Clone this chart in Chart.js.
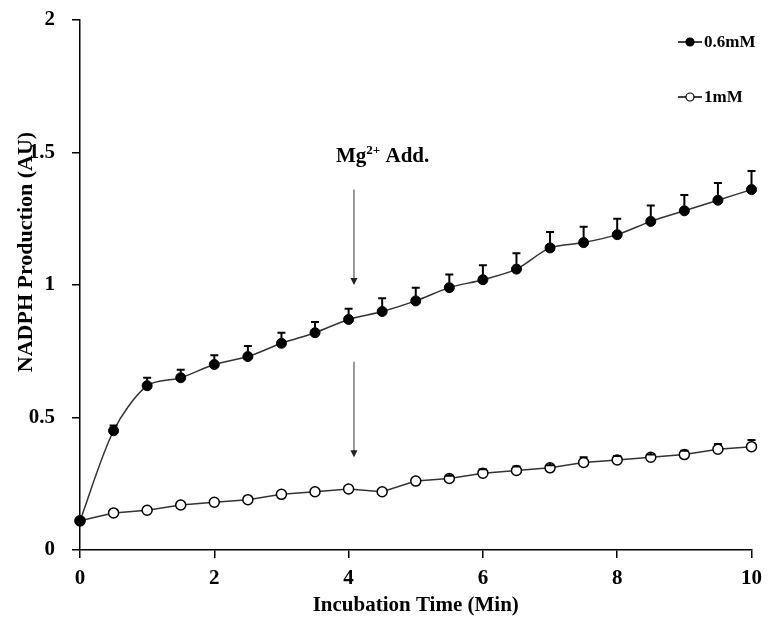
<!DOCTYPE html>
<html>
<head>
<meta charset="utf-8">
<script src="https://cdn.jsdelivr.net/npm/chart.js@4.4.0/dist/chart.umd.min.js"></script>
<style>
    html, body { margin: 0; padding: 0; background: #fff; }
    #wrap { width: 770px; height: 630px; }
</style>
</head>
<body>
<div id="wrap"><canvas id="nadphChart" width="770" height="630"></canvas></div>
<script>
// time points (min)
const times = [0, 0.5, 1, 1.5, 2, 2.5, 3, 3.5, 4, 4.5, 5, 5.5, 6, 6.5, 7, 7.5, 8, 8.5, 9, 9.5, 10]

// 0.6mM Mg2+
const mg06 = [0.11, 0.45, 0.62, 0.65, 0.70, 0.73, 0.78, 0.82, 0.87, 0.90, 0.94, 0.99, 1.02, 1.06, 1.14, 1.16, 1.19, 1.24, 1.28, 1.32, 1.36]
const mg06Err = [0, 0.02, 0.03, 0.03, 0.035, 0.04, 0.04, 0.04, 0.04, 0.05, 0.05, 0.05, 0.055, 0.06, 0.06, 0.06, 0.06, 0.06, 0.06, 0.065, 0.07]

// 1mM Mg2+
const mg1 = [0.11, 0.14, 0.15, 0.17, 0.18, 0.19, 0.21, 0.22, 0.23, 0.22, 0.26, 0.27, 0.29, 0.30, 0.31, 0.33, 0.34, 0.35, 0.36, 0.38, 0.39]
const mg1Err = [0, 0, 0, 0, 0, 0, 0, 0, 0, 0, 0, 0.01, 0.015, 0.015, 0.01, 0.02, 0.015, 0.01, 0.015, 0.02, 0.025]

const xTickValues = [0, 2, 4, 6, 8, 10]
const yTickValues = [0, 0.5, 1, 1.5, 2]
const yTickLabels = ['0', '0.5', '1', '1.5', '2']

// where Mg2+ was added (x) and the two arrows (y from -> to)
const addTime = 4.08
const arrowUpper = [1.36, 1.0]
const arrowLower = [0.71, 0.35]

const serif = "'Liberation Serif', 'Times New Roman', serif"

const errorBars = {
    id: 'errorBars',
    afterDatasetsDraw(chart) {
        const ctx = chart.ctx
        const yScale = chart.scales.y
        chart.data.datasets.forEach((ds, i) => {
            if (!ds.errors) return
            const meta = chart.getDatasetMeta(i)
            ctx.save()
            ctx.strokeStyle = '#000'
            ctx.lineWidth = 2
            meta.data.forEach((pt, j) => {
                const err = ds.errors[j]
                if (!err) return
                const top = yScale.getPixelForValue(ds.data[j].y + err)
                ctx.beginPath()
                ctx.moveTo(pt.x, pt.y - ds.pointRadius)
                ctx.lineTo(pt.x, top)
                ctx.moveTo(pt.x - 4, top)
                ctx.lineTo(pt.x + 4, top)
                ctx.stroke()
            })
            ctx.restore()
        })
    }
}

function drawArrow(ctx, x, y1, y2) {
    ctx.save()
    ctx.strokeStyle = '#777'
    ctx.lineWidth = 1.5
    ctx.beginPath()
    ctx.moveTo(x, y1)
    ctx.lineTo(x, y2 - 4)
    ctx.stroke()
    ctx.fillStyle = '#222'
    ctx.beginPath()
    ctx.moveTo(x - 3.5, y2 - 7)
    ctx.lineTo(x + 3.5, y2 - 7)
    ctx.lineTo(x, y2)
    ctx.closePath()
    ctx.fill()
    ctx.restore()
}

const extras = {
    id: 'extras',
    afterDraw(chart) {
        const ctx = chart.ctx
        const xs = chart.scales.x
        const ys = chart.scales.y
        const ax = xs.getPixelForValue(addTime)

        drawArrow(ctx, ax, ys.getPixelForValue(arrowUpper[0]), ys.getPixelForValue(arrowUpper[1]))
        drawArrow(ctx, ax, ys.getPixelForValue(arrowLower[0]), ys.getPixelForValue(arrowLower[1]))

        // Mg2+ Add. label
        ctx.save()
        ctx.fillStyle = '#000'
        ctx.textBaseline = 'alphabetic'
        ctx.textAlign = 'left'
        let tx = 336
        const ty = 162
        ctx.font = 'bold 21px ' + serif
        ctx.fillText('Mg', tx, ty)
        tx += ctx.measureText('Mg').width
        ctx.font = 'bold 13px ' + serif
        ctx.fillText('2+', tx, ty - 8)
        tx += ctx.measureText('2+').width
        ctx.font = 'bold 21px ' + serif
        ctx.fillText(' Add.', tx, ty)

        // y axis title
        ctx.translate(26, 252)
        ctx.rotate(-Math.PI / 2)
        ctx.textAlign = 'center'
        ctx.textBaseline = 'middle'
        ctx.font = 'bold 22px ' + serif
        ctx.fillText('NADPH Production (AU)', 0, 0)
        ctx.restore()

        // legend
        const items = [
            { label: '0.6mM', fill: '#000', y: 42 },
            { label: '1mM', fill: '#fff', y: 97 }
        ]
        ctx.save()
        items.forEach(it => {
            ctx.strokeStyle = '#000'
            ctx.lineWidth = 1.5
            ctx.beginPath()
            ctx.moveTo(678, it.y)
            ctx.lineTo(702, it.y)
            ctx.stroke()
            ctx.beginPath()
            ctx.arc(690, it.y, 4, 0, Math.PI * 2)
            ctx.fillStyle = it.fill
            ctx.fill()
            ctx.lineWidth = 1.2
            ctx.stroke()
            ctx.fillStyle = '#000'
            ctx.font = 'bold 17px ' + serif
            ctx.textAlign = 'left'
            ctx.textBaseline = 'middle'
            ctx.fillText(it.label, 704, it.y + 1)
        })
        ctx.restore()
    }
}

document.addEventListener("DOMContentLoaded", function () {
    const ctx = document.getElementById('nadphChart').getContext('2d')

    new Chart(ctx, {
        type: 'line',
        data: {
            datasets: [{
                label: '0.6mM',
                data: times.map((t, i) => ({ x: t, y: mg06[i] })),
                errors: mg06Err,
                borderColor: '#333',
                borderWidth: 1.5,
                tension: 0.3,
                clip: false,
                pointRadius: 5,
                pointBackgroundColor: '#000',
                pointBorderColor: '#000',
                pointBorderWidth: 1
            }, {
                label: '1mM',
                data: times.map((t, i) => ({ x: t, y: mg1[i] })),
                errors: mg1Err,
                borderColor: '#333',
                borderWidth: 1.5,
                tension: 0,
                clip: false,
                pointRadius: 5,
                pointBackgroundColor: '#fff',
                pointBorderColor: '#000',
                pointBorderWidth: 1.5
            }]
        },
        options: {
            responsive: false,
            animation: false,
            events: [],
            layout: {
                padding: { left: 0, right: 18, top: 20, bottom: 0 }
            },
            plugins: {
                legend: { display: false },
                tooltip: { enabled: false }
            },
            scales: {
                x: {
                    type: 'linear',
                    min: 0,
                    max: 10,
                    afterBuildTicks: (scale) => {
                        scale.ticks = xTickValues.map(v => ({ value: v }))
                    },
                    afterFit: (scale) => { scale.height = 80 },
                    grid: { drawOnChartArea: false, drawTicks: true, tickLength: 8, color: '#000', lineWidth: 1.5 },
                    border: { color: '#000', width: 1.5 },
                    ticks: {
                        color: '#000',
                        padding: 8,
                        maxRotation: 0,
                        font: { family: serif, size: 21, weight: 'bold' }
                    },
                    title: {
                        display: true,
                        text: 'Incubation Time (Min)',
                        color: '#000',
                        padding: { top: 0, bottom: 12 },
                        font: { family: serif, size: 21, weight: 'bold' }
                    }
                },
                y: {
                    min: 0,
                    max: 2,
                    afterBuildTicks: (scale) => {
                        scale.ticks = yTickValues.map(v => ({ value: v }))
                    },
                    afterFit: (scale) => {
                        scale.width = 80
                        scale.paddingTop = 0
                        scale.paddingBottom = 0
                    },
                    grid: { drawOnChartArea: false, drawTicks: true, tickLength: 8, color: '#000', lineWidth: 1.5 },
                    border: { color: '#000', width: 1.5 },
                    ticks: {
                        color: '#000',
                        padding: 17,
                        font: { family: serif, size: 21, weight: 'bold' },
                        callback: (value) => yTickLabels[yTickValues.indexOf(value)]
                    }
                }
            }
        },
        plugins: [errorBars, extras]
    });
});
</script>
</body>
</html>
